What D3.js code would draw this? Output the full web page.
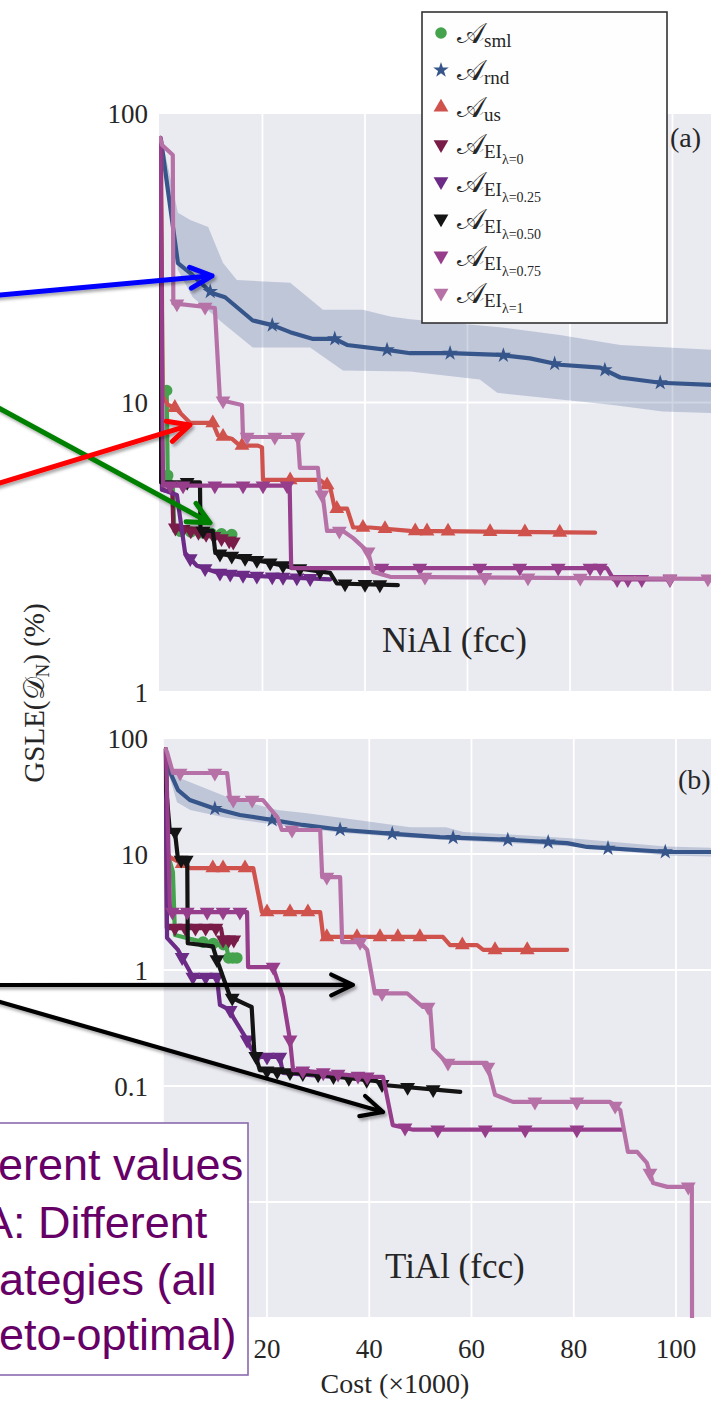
<!DOCTYPE html>
<html>
<head>
<meta charset="utf-8">
<script src="https://cdn.jsdelivr.net/npm/d3@7"></script>
<style>
  html, body { margin: 0; padding: 0; background: #fff; }
  svg { display: block; }
</style>
</head>
<body>
<svg id="chart" width="711" height="1401"></svg>
<script>
// ---------- data: cost (x1000) vs GSLE (%) ----------
const costTicks = [20, 40, 60, 80, 100];
const aYTicks = [1, 10, 100];
const bYTicks = [0.001, 0.01, 0.1, 1, 10, 100];
// labelled ticks (the lowest decades of panel (b) sit under the callout box)
const aYLabels = [1, 10, 100];
const bYLabels = [0.1, 1, 10, 100];
const yTickText = {0.001: "0.001", 0.01: "0.01", 0.1: "0.1", 1: "1", 10: "10", 100: "100"};

// Panel (a): NiAl (fcc)
const aSml = [[0.1,80],[0.5,11],[1.3,11],[1.5,5.6],[2.5,5.2],[2.8,3.6],[14.0,3.5]];
const aSmlMarks = [1.3, 1.5, 4, 6, 8, 10, 12, 14.0];
const aRnd = [[0.2,80.7],[3.5,30.3],[5.9,28],[10.1,23.9],[12.7,23.1],[18.1,19.2],[21.9,18.5],[25.4,17.5],[29.7,16.6],[34.1,16.6],[36.5,15.8],[44.3,15.2],[48.8,14.8],[56.6,14.8],[66.3,14.6],[72.2,14.2],[78.0,13.5],[85.9,13.2],[89.8,12.2],[97.6,11.7],[108,11.5]];
const aRndMarks = [9.8, 21.9, 34.1, 44.3, 56.6, 67, 77, 86.8, 97.6];
const aRndHi = [[0.2,84],[3.5,45.2],[5.9,42.7],[9.4,40.4],[12.3,30.3],[15.0,26.5],[25.4,25.9],[31.8,20.9],[39.6,20.9],[44.9,19.8],[48.8,19.4],[66.3,18.2],[78,17.1],[89.8,15.8],[108,15.2]];
const aRndLo = [[0.2,77.5],[3.5,28.7],[6.4,23.1],[12.3,18.8],[18.1,15.5],[29.3,15.5],[35.7,12.9],[48.8,12.8],[62.4,12.0],[65.8,10.8],[88.4,9.8],[98.1,9.3],[108,9.2]];
const aUs = [[0.2,80],[0.5,10.5],[1.6,9.8],[2.9,9.6],[5.9,8.5],[10.3,8.5],[11.3,7.7],[14.0,7.5],[15.6,7.1],[19.1,7.1],[19.9,7.0],[20.1,5.4],[31.2,5.4],[31.8,5.3],[33.2,5.1],[34.1,4.3],[36.5,4.3],[37.7,3.7],[41.0,3.7],[48.8,3.6],[84.9,3.55]];
const aUsMarks = [2.9, 10.3, 12.3, 16.0, 25.4, 32.6, 34.5, 39.6, 43.9, 49.8, 52.1, 56.2, 64.4, 71.2, 78.0];
const aEi0 = [[0.1,80],[0.4,5.0],[2.4,4.9],[2.6,3.7],[8,3.55],[14.3,3.3]];
const aEi0Marks = [3.0, 4.5, 6, 7.5, 9, 10.5, 12, 13.5, 14.3];
const aEi025 = [[0.1,82],[0.4,5.0],[3.3,4.79],[4.9,3.02],[7.2,2.73],[11.3,2.58],[17.6,2.52],[24.8,2.49],[33.2,2.45]];
const aEi025Marks = [5.9, 8.8, 11.7, 13.7, 16.2, 18.9, 21.9, 24, 26.7, 29.3];
const aEi050 = [[0.1,50],[0.2,5.3],[7.8,5.3],[7.9,3.6],[10.3,3.6],[10.8,3.02],[20.9,2.81],[25.4,2.70],[33.2,2.58],[34.5,2.37],[46.4,2.34]];
const aEi050Marks = [5.3, 8.4, 11.7, 14, 16.6, 18.9, 21.5, 24, 27.3, 31.2, 36.1, 40, 42.9];
const aEi075 = [[0.1,82],[0.4,13.3],[0.6,5.16],[25.3,5.16],[25.6,2.68],[87.2,2.68],[88.5,2.45],[99.5,2.45]];
const aEi075Marks = [2.0, 4.5, 10.7, 16.2, 20.1, 24.8, 43.3, 50.7, 62.4, 70.2, 77.7, 83.9, 85.9, 89.2, 91.3, 94, 99.5];
const aEi1 = [[0,82],[0.4,77.5],[2.5,71.6],[2.6,22],[10.7,21.2],[11.7,10.2],[16.0,9.8],[16.2,7.6],[26.9,7.6],[27.3,5.95],[30.8,5.95],[31.2,5.0],[31.8,4.7],[32.6,3.6],[35.7,3.6],[37.7,3.4],[40.6,3.05],[41.6,2.6],[44.9,2.5],[108,2.46]];
const aEi1Marks = [3.3, 8.8, 12.3, 17, 22.4, 26.9, 31.6, 35, 40.6, 51.7, 63.4, 71.8, 82, 99.5, 106.9];

// Panel (b): TiAl (fcc)
const bSml = [[0.2,80],[0.6,10],[1.6,7],[2.0,2.0],[7.5,1.74],[12.0,1.64],[12.5,1.27],[14.1,1.27]];
const bSmlMarks = [7.5, 9.5, 11.5, 12.5, 13.3, 14.1];
const bRnd = [[0.3,64],[0.6,56.2],[2.6,35.6],[4.9,29.2],[9.4,24.9],[14.7,21.7],[21.2,19.6],[27.0,17.8],[34.9,16.1],[44.1,15.0],[53.8,14.0],[59.1,13.7],[68.1,13.2],[78.7,12.4],[82.6,11.5],[98.3,10.4],[108,10.4]];
const bRndMarks = [9.8, 21.0, 34.3, 44.5, 56.4, 67.1, 75.0, 86.7, 97.9];
const bRndHi = [[0.3,72],[2.4,46],[12.2,31],[22,24],[27.8,22.5],[37.6,19.6],[48,17],[55,17],[58.4,15.5],[70,14.5],[80,13.6],[98,11.6],[108,11.3]];
const bRndLo = [[0.3,58],[2.4,28],[5,24],[12,20.5],[22,17.8],[35,15.2],[48,13.8],[60,12.9],[80,11.6],[98,9.7],[108,9.5]];
const bUs = [[0.2,80],[0.6,10],[1.0,9.4],[4.9,7.57],[17.3,7.57],[19.0,3.16],[30.4,3.16],[31.0,1.93],[54.4,1.93],[55.8,1.64],[61.1,1.64],[62.3,1.49],[78.7,1.49]];
const bUsMarks = [3.4, 9.4, 11.4, 15.7, 20.0, 24.5, 28.0, 31.7, 37.6, 42.1, 45.6, 49.9, 58.2, 64.6, 70.9];
const bEi0 = [[0.2,80],[0.4,2.3],[11.0,2.3],[11.4,1.82],[14.1,1.82]];
const bEi0Marks = [2, 4, 6, 8, 10, 11.4, 12.5, 13.5];
const bEi025 = [[0.2,80],[0.45,1.89],[2.6,1.49],[5.5,0.87],[10.2,0.87],[10.8,0.5],[12.8,0.45],[13.4,0.39],[16.1,0.25],[16.7,0.217],[18.0,0.178],[22.5,0.178],[23.1,0.13],[33,0.12]];
const bEi025Marks = [3.4, 5.5, 8, 10.2, 12.8, 16.1, 18, 20, 22.5];
const bEi050 = [[0.2,80],[0.3,35.6],[1.0,15.5],[2.0,15.5],[2.6,8.88],[4.4,8.88],[4.5,1.70],[9.4,1.6],[10.2,1.23],[11.4,0.87],[12.8,0.585],[16.1,0.5],[17.0,0.48],[17.5,0.2],[18.6,0.137],[30,0.125],[41.5,0.11],[42.7,0.102],[57.8,0.089]];
const bEi050Marks = [2.0, 3.2, 4.2, 10.2, 13.2, 17.8, 20, 22, 24.5, 27, 30, 33, 36, 39.5, 42.5, 47.5, 52.5];
const bEi075 = [[0.2,80],[0.3,60],[1.0,3.63],[1.2,3.16],[16.1,3.16],[16.3,1.06],[21.2,1.06],[23.1,0.585],[24.5,0.25],[25.1,0.137],[25.9,0.137],[39.6,0.12],[42.7,0.12],[44.6,0.046],[48.6,0.042],[89.5,0.042]];
const bEi075Marks = [1.5, 4.4, 8.3, 11.4, 14.7, 21.2, 24.5, 27.0, 31, 33.9, 37.8, 39.6, 47.0, 53.4, 62.7, 70.5, 80.6];
const bEi1 = [[0.2,80],[0.45,75.7],[1.6,49.9],[12.2,49.9],[12.8,29.2],[19.2,29.2],[22.0,20.8],[22.9,16.1],[30.4,16.1],[30.8,6.33],[34.3,6.33],[34.7,1.74],[38.2,1.74],[39.6,1.49],[41.1,0.63],[47.4,0.63],[50.5,0.48],[51.9,0.48],[52.5,0.21],[55.2,0.158],[63.0,0.158],[64.6,0.084],[68.1,0.073],[87.1,0.073],[89.1,0.062],[90.6,0.027],[92.4,0.027],[94.3,0.0217],[95.5,0.0146],[98.3,0.0135],[103.1,0.0135],[103.2,0.00001]];
const bEi1Marks = [3.0, 9.8, 13.4, 17.1, 24.9, 31.7, 38.2, 42.5, 51.5, 55.4, 63.2, 72.4, 80.6, 88.1, 94.9, 102.4];

// ---------- styles ----------
const seriesKeys = ["sml", "rnd", "us", "ei0", "ei025", "ei050", "ei075", "ei1"];
const seriesColor = {
  sml: "#45a24d", rnd: "#36558a", us: "#d0524c", ei0: "#7a1c48",
  ei025: "#6b2b86", ei050: "#141414", ei075: "#963e8b", ei1: "#b672a7"
};
const legendSub = {
  sml: ["sml", null], rnd: ["rnd", null], us: ["us", null],
  ei0: ["EI", "\u03bb=0"], ei025: ["EI", "\u03bb=0.25"], ei050: ["EI", "\u03bb=0.50"],
  ei075: ["EI", "\u03bb=0.75"], ei1: ["EI", "\u03bb=1"]
};
const serif = "'Liberation Serif', 'DejaVu Serif', serif";
const textColor = "#262626";
const bgColor = "#eaeaf1";

const svg = d3.select("#chart");
svg.append("rect").attr("width", 711).attr("height", 1401).attr("fill", "#fff");

const defs = svg.append("defs");
const shadow = defs.append("filter").attr("id", "arrowShadow")
  .attr("x", "-10%").attr("y", "-50%").attr("width", "130%").attr("height", "200%");
shadow.append("feDropShadow").attr("dx", 2).attr("dy", 2.5)
  .attr("stdDeviation", 1.6).attr("flood-color", "#000").attr("flood-opacity", 0.35);

function symbolPath(key) {
  if (key === "sml") return d3.symbol(d3.symbolCircle, 105)();
  if (key === "rnd") return d3.symbol(d3.symbolStar, 75)();
  return d3.symbol(d3.symbolTriangle, 95)();
}
function symbolRotate(key) { return key.startsWith("ei") ? 180 : 0; }

// value of a piecewise (log-linear) series at a given cost
function valueAt(data, c) {
  for (let i = 1; i < data.length; i++) {
    const [c0, v0] = data[i - 1], [c1, v1] = data[i];
    if (c >= c0 && c <= c1) {
      if (c1 === c0) return v1;
      const t = (c - c0) / (c1 - c0);
      return Math.exp(Math.log(v0) + t * (Math.log(v1) - Math.log(v0)));
    }
  }
  return data[data.length - 1][1];
}

const panels = [
  {
    id: "a", xLeft: 160, unit: 5.125, top: 113, bottom: 692, yDomain: [1, 100], yTicks: aYTicks, yLabels: aYLabels,
    series: {sml: [aSml, aSmlMarks], rnd: [aRnd, aRndMarks], us: [aUs, aUsMarks], ei0: [aEi0, aEi0Marks],
             ei025: [aEi025, aEi025Marks], ei050: [aEi050, aEi050Marks], ei075: [aEi075, aEi075Marks], ei1: [aEi1, aEi1Marks]},
    band: [aRndHi, aRndLo], name: "NiAl (fcc)", nameX: 382, nameY: 652, tag: "(a)", tagX: 670, tagY: 147, xLabels: false
  },
  {
    id: "b", xLeft: 164.75, unit: 5.1125, top: 738, bottom: 1318, yDomain: [0.001, 100], yTicks: bYTicks, yLabels: bYLabels,
    series: {sml: [bSml, bSmlMarks], rnd: [bRnd, bRndMarks], us: [bUs, bUsMarks], ei0: [bEi0, bEi0Marks],
             ei025: [bEi025, bEi025Marks], ei050: [bEi050, bEi050Marks], ei075: [bEi075, bEi075Marks], ei1: [bEi1, bEi1Marks]},
    band: [bRndHi, bRndLo], name: "TiAl (fcc)", nameX: 385, nameY: 1278, tag: "(b)", tagX: 678, tagY: 789, xLabels: true
  }
];

const scales = {};

panels.forEach(p => {
  const x = d3.scaleLinear().domain([0, 110]).range([p.xLeft, p.xLeft + 110 * p.unit]);
  const y = d3.scaleLog().domain(p.yDomain).range([p.bottom, p.top]);
  scales[p.id] = {x, y};
  const g = svg.append("g");
  const left = p.xLeft - 1;

  g.append("rect").attr("x", left).attr("y", p.top).attr("width", 740 - left)
    .attr("height", p.bottom - p.top).attr("fill", bgColor);

  // grid
  g.selectAll(".vgrid").data(costTicks).join("line")
    .attr("x1", d => x(d)).attr("x2", d => x(d)).attr("y1", p.top).attr("y2", p.bottom)
    .attr("stroke", "#fff").attr("stroke-width", 1.8);
  g.selectAll(".hgrid").data(p.yTicks).join("line")
    .attr("x1", left).attr("x2", 740).attr("y1", d => y(d)).attr("y2", d => y(d))
    .attr("stroke", "#fff").attr("stroke-width", 1.8);

  // y tick labels
  g.selectAll(".ytick").data(p.yLabels).join("text")
    .attr("x", 148).attr("y", d => y(d)).attr("dy", "0.36em").attr("text-anchor", "end")
    .attr("font-family", serif).attr("font-size", 27).attr("fill", textColor)
    .text(d => yTickText[d]);

  if (p.xLabels) {
    g.selectAll(".xtick").data(costTicks).join("text")
      .attr("x", d => x(d)).attr("y", p.bottom + 40).attr("text-anchor", "middle")
      .attr("font-family", serif).attr("font-size", 27).attr("fill", textColor)
      .text(d => d);
  }

  const clipId = "clip-" + p.id;
  defs.append("clipPath").attr("id", clipId).append("rect")
    .attr("x", left).attr("y", p.top).attr("width", 740 - left).attr("height", p.bottom - p.top);
  const plot = g.append("g").attr("clip-path", `url(#${clipId})`);

  // random-selection spread band
  const [hi, lo] = p.band;
  const bandPts = hi.concat(lo.slice().reverse());
  plot.append("path")
    .attr("d", d3.line().x(d => x(d[0])).y(d => y(d[1]))(bandPts) + "Z")
    .attr("fill", seriesColor.rnd).attr("fill-opacity", 0.24);

  const line = d3.line().x(d => x(d[0])).y(d => y(Math.max(d[1], 1e-6)));
  seriesKeys.forEach(k => {
    const [data, marks] = p.series[k];
    plot.append("path").attr("d", line(data)).attr("fill", "none")
      .attr("stroke", seriesColor[k]).attr("stroke-width", 4.2)
      .attr("stroke-linejoin", "round").attr("stroke-linecap", "round");
    plot.selectAll(null).data(marks).join("path")
      .attr("d", symbolPath(k))
      .attr("transform", c => `translate(${x(c)},${y(valueAt(data, c))}) rotate(${symbolRotate(k)})`)
      .attr("fill", seriesColor[k]);
  });

  g.append("text").attr("x", p.nameX).attr("y", p.nameY)
    .attr("font-family", serif).attr("font-size", 35).attr("fill", textColor).text(p.name);
  g.append("text").attr("x", p.tagX).attr("y", p.tagY)
    .attr("font-family", serif).attr("font-size", 28).attr("fill", textColor).text(p.tag);
});

// axis titles
svg.append("text").attr("transform", "translate(44,693) rotate(-90)").attr("text-anchor", "middle")
  .attr("font-family", serif).attr("font-size", 29).attr("fill", textColor)
  .call(t => {
    t.append("tspan").text("GSLE(");
    t.append("tspan").text("\u{1D49F}");
    t.append("tspan").attr("font-size", 19).attr("dy", 5).text("N");
    t.append("tspan").attr("dy", -5).text(") (%)");
  });
svg.append("text").attr("x", 395).attr("y", 1393).attr("text-anchor", "middle")
  .attr("font-family", serif).attr("font-size", 28).attr("fill", textColor)
  .text("Cost (\u00d71000)");

// legend
const legend = svg.append("g");
legend.append("rect").attr("x", 422).attr("y", 12).attr("width", 245).attr("height", 311)
  .attr("fill", "#fefefe").attr("stroke", "#333").attr("stroke-width", 1.6);
const legendRowY = d3.scalePoint().domain(seriesKeys).range([33, 293]);
seriesKeys.forEach(k => {
  const cy = legendRowY(k);
  legend.append("path").attr("d", symbolPath(k))
    .attr("transform", `translate(441,${cy}) rotate(${symbolRotate(k)})`)
    .attr("fill", seriesColor[k]);
  const t = legend.append("text").attr("x", 457).attr("y", cy + 10)
    .attr("font-family", serif).attr("fill", textColor).attr("font-size", 29);
  t.append("tspan").text("\u{1D49C}");
  const [s1, s2] = legendSub[k];
  t.append("tspan").attr("font-size", 19).attr("dy", 4).text(s1);
  if (s2) t.append("tspan").attr("font-size", 14).attr("dy", 6).text(s2);
});

// annotation arrows (tips anchored on the data panels)
const arrows = [
  {from: [-40, 298.6], panel: "a", tip: [10.15, 27.4], color: "#0000ff", width: 5},
  {from: [-40, 387], panel: "a", tip: [9.76, 3.84], color: "#008000", width: 5},
  {from: [-40, 495], panel: "a", tip: [5.85, 8.36], color: "#ff0000", width: 5},
  {from: [-40, 985], panel: "b", tip: [36.8, 0.743], color: "#000000", width: 4.2},
  {from: [-40, 990.5], panel: "b", tip: [42.7, 0.0597], color: "#000000", width: 4.2}
];
const arrowLayer = svg.append("g").attr("filter", "url(#arrowShadow)");
arrows.forEach(a => {
  const s = scales[a.panel];
  const tx = s.x(a.tip[0]), ty = s.y(a.tip[1]);
  const [fx, fy] = a.from;
  const ang = Math.atan2(fy - ty, fx - tx);
  const len = 24, spread = 0.45;
  const p1 = [tx + len * Math.cos(ang + spread), ty + len * Math.sin(ang + spread)];
  const p2 = [tx + len * Math.cos(ang - spread), ty + len * Math.sin(ang - spread)];
  arrowLayer.append("path")
    .attr("d", `M${fx},${fy}L${tx},${ty}M${p1[0]},${p1[1]}L${tx},${ty}L${p2[0]},${p2[1]}`)
    .attr("fill", "none").attr("stroke", a.color).attr("stroke-width", a.width)
    .attr("stroke-linecap", "round").attr("stroke-linejoin", "round");
});

// callout text box
const note = svg.append("g");
note.append("rect").attr("x", -4).attr("y", 1123).attr("width", 252).attr("height", 252)
  .attr("fill", "#fff").attr("stroke", "#8a6aae").attr("stroke-width", 1.6);
const noteLines = [
  {text: "erent values", x: -2, y: 1180},
  {text: "A: Different", x: -17, y: 1238},
  {text: "ategies (all", x: -1, y: 1295},
  {text: "eto-optimal)", x: -1, y: 1350}
];
note.selectAll(null).data(noteLines).join("text")
  .attr("x", d => d.x).attr("y", d => d.y)
  .attr("font-family", "'Liberation Sans', Arial, sans-serif").attr("font-size", 45)
  .attr("fill", "#660066").text(d => d.text);
</script>
</body>
</html>
